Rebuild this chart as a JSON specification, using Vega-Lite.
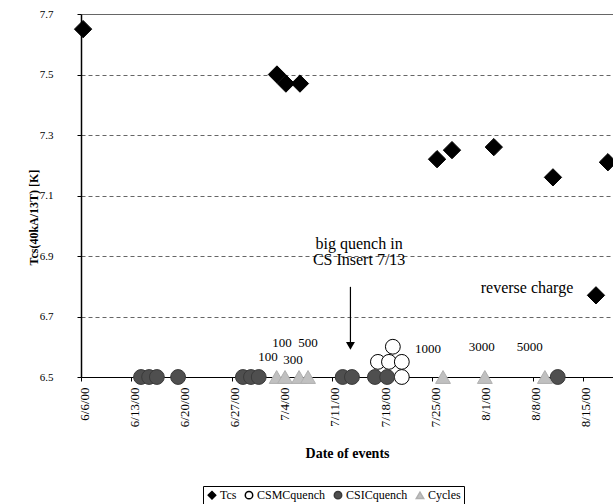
{
  "$schema": "https://vega.github.io/schema/vega-lite/v6.json",
  "width": 532,
  "height": 363,
  "autosize": {"type": "none"},
  "padding": {"left": 81, "top": 14, "right": 0, "bottom": 127},
  "background": "white",
  "config": {
    "view": {"stroke": null},
    "font": "Liberation Serif",
    "axis": {"labelFont": "Liberation Serif", "titleFont": "Liberation Serif", "labelColor": "black", "titleColor": "black"},
    "legend": {"labelFont": "Liberation Serif", "labelFontSize": 12, "labelColor": "black"}
  },
  "datasets": {
    "markers": [
      {"date": "2000/07/17 10:00", "value": 6.55, "series": "CSMCquench"},
      {"date": "2000/07/18 23:00", "value": 6.55, "series": "CSMCquench"},
      {"date": "2000/07/20 18:00", "value": 6.55, "series": "CSMCquench"},
      {"date": "2000/07/19 12:00", "value": 6.6, "series": "CSMCquench"},
      {"date": "2000/07/20 18:00", "value": 6.5, "series": "CSMCquench"},
      {"date": "2000/06/14 09:00", "value": 6.5, "series": "CSICquench"},
      {"date": "2000/06/15 12:00", "value": 6.5, "series": "CSICquench"},
      {"date": "2000/06/16 14:00", "value": 6.5, "series": "CSICquench"},
      {"date": "2000/06/19 13:00", "value": 6.5, "series": "CSICquench"},
      {"date": "2000/06/28 14:00", "value": 6.5, "series": "CSICquench"},
      {"date": "2000/06/29 17:00", "value": 6.5, "series": "CSICquench"},
      {"date": "2000/06/30 19:00", "value": 6.5, "series": "CSICquench"},
      {"date": "2000/07/12 12:00", "value": 6.5, "series": "CSICquench"},
      {"date": "2000/07/13 19:00", "value": 6.5, "series": "CSICquench"},
      {"date": "2000/07/17 00:00", "value": 6.5, "series": "CSICquench"},
      {"date": "2000/07/18 17:00", "value": 6.5, "series": "CSICquench"},
      {"date": "2000/08/11 12:00", "value": 6.5, "series": "CSICquench"},
      {"date": "2000/07/03 07:00", "value": 6.5, "series": "Cycles"},
      {"date": "2000/07/04 11:00", "value": 6.5, "series": "Cycles"},
      {"date": "2000/07/06 10:00", "value": 6.5, "series": "Cycles"},
      {"date": "2000/07/07 16:00", "value": 6.5, "series": "Cycles"},
      {"date": "2000/07/26 12:00", "value": 6.5, "series": "Cycles"},
      {"date": "2000/08/01 08:00", "value": 6.5, "series": "Cycles"},
      {"date": "2000/08/09 17:00", "value": 6.5, "series": "Cycles"},
      {"date": "2000/06/06 07:00", "value": 7.65, "series": "Tcs"},
      {"date": "2000/07/03 08:00", "value": 7.5, "series": "Tcs"},
      {"date": "2000/07/04 14:00", "value": 7.47, "series": "Tcs"},
      {"date": "2000/07/06 13:00", "value": 7.47, "series": "Tcs"},
      {"date": "2000/07/25 16:00", "value": 7.22, "series": "Tcs"},
      {"date": "2000/07/27 18:00", "value": 7.25, "series": "Tcs"},
      {"date": "2000/08/02 14:00", "value": 7.26, "series": "Tcs"},
      {"date": "2000/08/10 20:00", "value": 7.16, "series": "Tcs"},
      {"date": "2000/08/18 12:00", "value": 7.21, "series": "Tcs"},
      {"date": "2000/08/16 20:00", "value": 6.77, "series": "Tcs"}
    ],
    "nums": [
      {"date": "2000/07/02 02:00", "value": 6.566, "text": "100"},
      {"date": "2000/07/04 01:00", "value": 6.612, "text": "100"},
      {"date": "2000/07/05 14:00", "value": 6.556, "text": "300"},
      {"date": "2000/07/07 16:00", "value": 6.612, "text": "500"},
      {"date": "2000/07/24 10:00", "value": 6.593, "text": "1000"},
      {"date": "2000/07/31 22:00", "value": 6.6, "text": "3000"},
      {"date": "2000/08/07 14:00", "value": 6.6, "text": "5000"}
    ],
    "notes": [
      {"date": "2000/07/14 19:00", "value": 6.94, "text": "big quench in"},
      {"date": "2000/07/14 19:00", "value": 6.887, "text": "CS Insert 7/13"},
      {"date": "2000/08/07 05:00", "value": 6.794, "text": "reverse charge"}
    ],
    "arrow": [
      {"date": "2000/07/13 14:00", "value": 6.798, "value2": 6.603}
    ]
  },
  "layer": [
    {
      "data": {"name": "markers"},
      "transform": [{"filter": "datum.series !== 'Tcs'"}],
      "mark": {"type": "point", "filled": true, "opacity": 1, "strokeWidth": 1, "size": 220},
      "encoding": {
        "x": {
          "field": "date",
          "type": "temporal",
          "scale": {
            "domain": [
              {"year": 2000, "month": 6, "date": 6},
              {"year": 2000, "month": 8, "date": 19, "hours": 5}
            ]
          },
          "axis": {
            "title": "Date of events",
            "titleFontSize": 14,
            "titleFontWeight": "bold",
            "titleY": 76,
            "titleBaseline": "middle",
            "values": [
              {"year": 2000, "month": 6, "date": 6},
              {"year": 2000, "month": 6, "date": 13},
              {"year": 2000, "month": 6, "date": 20},
              {"year": 2000, "month": 6, "date": 27},
              {"year": 2000, "month": 7, "date": 4},
              {"year": 2000, "month": 7, "date": 11},
              {"year": 2000, "month": 7, "date": 18},
              {"year": 2000, "month": 7, "date": 25},
              {"year": 2000, "month": 8, "date": 1},
              {"year": 2000, "month": 8, "date": 8},
              {"year": 2000, "month": 8, "date": 15}
            ],
            "format": "%-m/%-d/%y",
            "labelAngle": -90,
            "labelFontSize": 13,
            "labelPadding": 6,
            "labelOffset": 3,
            "labelFlush": false,
            "labelOverlap": false,
            "domainColor": "black",
            "domainWidth": 1,
            "tickColor": "black",
            "tickSize": 4,
            "grid": false
          }
        },
        "y": {
          "field": "value",
          "type": "quantitative",
          "scale": {"domain": [6.5, 7.7], "nice": false, "zero": false},
          "axis": {
            "title": "Tcs(40kA/13T) [K]",
            "titleFontSize": 12,
            "titleFontWeight": "bold",
            "titleAngle": -90,
            "titleX": -48,
            "titleY": 203,
            "titleAlign": "center",
            "titleBaseline": "middle",
            "values": [6.5, 6.7, 6.9, 7.1, 7.3, 7.5, 7.7],
            "format": ".1f",
            "labelFontSize": 11,
            "labelPadding": 24,
            "domainColor": "black",
            "domainWidth": 1.5,
            "tickColor": "black",
            "tickSize": 4,
            "grid": true,
            "gridColor": "#666666",
            "gridDash": {"condition": {"test": "datum.value > 7.69", "value": []}, "value": [4, 3]},
            "gridWidth": 1
          }
        },
        "fill": {
          "field": "series",
          "type": "nominal",
          "scale": {
            "domain": ["Tcs", "CSMCquench", "CSICquench", "Cycles"],
            "range": ["#000000", "#ffffff", "#4f4f4f", "#c0c0c0"]
          },
          "legend": {
            "title": null,
            "orient": "none",
            "legendX": 122,
            "legendY": 472,
            "direction": "horizontal",
            "strokeColor": "black",
            "padding": 3,
            "symbolSize": 55,
            "columnPadding": 5,
            "labelOffset": 2,
            "cornerRadius": 0
          }
        },
        "stroke": {
          "field": "series",
          "type": "nominal",
          "scale": {
            "domain": ["Tcs", "CSMCquench", "CSICquench", "Cycles"],
            "range": ["#000000", "#000000", "#3a3a3a", "#b0b0b0"]
          }
        },
        "shape": {
          "field": "series",
          "type": "nominal",
          "scale": {
            "domain": ["Tcs", "CSMCquench", "CSICquench", "Cycles"],
            "range": ["diamond", "circle", "circle", "triangle-up"]
          }
        }
      }
    },
    {
      "data": {"name": "markers"},
      "transform": [{"filter": "datum.series === 'Tcs'"}],
      "mark": {"type": "point", "filled": true, "opacity": 1, "strokeWidth": 1, "size": 300},
      "encoding": {
        "x": {"field": "date", "type": "temporal"},
        "y": {"field": "value", "type": "quantitative"},
        "fill": {"field": "series", "type": "nominal"},
        "stroke": {"field": "series", "type": "nominal"},
        "shape": {"field": "series", "type": "nominal"}
      }
    },
    {
      "data": {"name": "nums"},
      "mark": {"type": "text", "font": "Liberation Serif", "fontSize": 13, "fill": "black", "baseline": "middle", "align": "center"},
      "encoding": {
        "x": {"field": "date", "type": "temporal"},
        "y": {"field": "value", "type": "quantitative"},
        "text": {"field": "text"}
      }
    },
    {
      "data": {"name": "notes"},
      "mark": {"type": "text", "font": "Liberation Serif", "fontSize": 16, "fill": "black", "baseline": "middle", "align": "center"},
      "encoding": {
        "x": {"field": "date", "type": "temporal"},
        "y": {"field": "value", "type": "quantitative"},
        "text": {"field": "text"}
      }
    },
    {
      "data": {"name": "arrow"},
      "mark": {"type": "rule", "color": "black", "strokeWidth": 1.2},
      "encoding": {
        "x": {"field": "date", "type": "temporal"},
        "y": {"field": "value", "type": "quantitative"},
        "y2": {"field": "value2"}
      }
    },
    {
      "data": {"name": "arrow"},
      "mark": {"type": "point", "shape": "triangle-down", "filled": true, "color": "black", "size": 80, "opacity": 1},
      "encoding": {
        "x": {"field": "date", "type": "temporal"},
        "y": {"field": "value2", "type": "quantitative"}
      }
    }
  ]
}
